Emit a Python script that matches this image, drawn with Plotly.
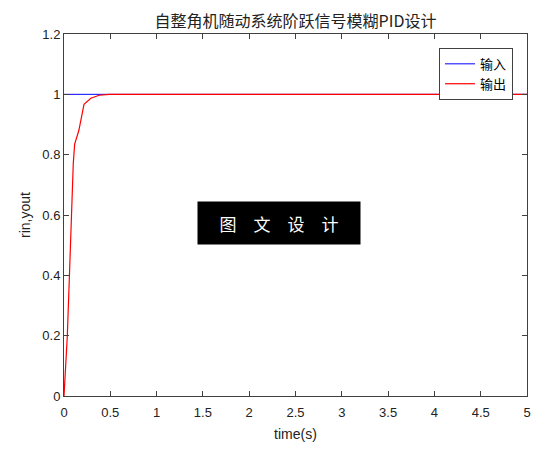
import plotly.graph_objects as go

time = [0, 0.036, 0.061, 0.08, 0.1, 0.115, 0.16, 0.216, 0.29, 0.38, 0.49, 1.0, 2.0, 3.0, 4.0, 5.0]
rin = [1, 1, 1, 1, 1, 1, 1, 1, 1, 1, 1, 1, 1, 1, 1, 1]
yout = [0, 0.2, 0.42, 0.62, 0.77, 0.835, 0.88, 0.967, 0.987, 0.997, 1.0, 1.0, 1.0, 1.0, 1.0, 1.0]

W, H = 551, 443
L, R, T, B = 56, 32, 26, 52
PW, PH = W - L - R, H - T - B
OX, OY = 64, 34  # plot origin in window pixels

fig = go.Figure()
fig.add_trace(go.Scatter(x=time, y=rin, mode="lines", name="输入",
                         line=dict(color="#0000ff", width=1)))
fig.add_trace(go.Scatter(x=time, y=yout, mode="lines", name="输出",
                         line=dict(color="#ff0000", width=1.2)))

tickfont = dict(family="Arial, Liberation Sans", size=13, color="#222")
axis_common = dict(showgrid=False, zeroline=False, showline=True, linecolor="#404040",
                   linewidth=1, mirror="ticks", ticks="inside", ticklen=5,
                   tickcolor="#404040", tickfont=tickfont)

fig.update_layout(
    width=W, height=H,
    paper_bgcolor="white", plot_bgcolor="white",
    margin=dict(l=L, r=R, t=T, b=B),
    title=dict(text="自整角机随动系统阶跃信号模糊PID设计", x=(L + PW / 2) / W, xanchor="center",
               y=1 - 13 / H, yanchor="middle",
               font=dict(family="Noto Sans CJK SC", size=16, color="#222")),
    xaxis=dict(range=[0, 5], dtick=0.5, tick0=0, ticklabelstandoff=4,
               title=dict(text="time(s)", font=dict(family="Arial, Liberation Sans", size=14, color="#222"), standoff=10),
               **axis_common),
    yaxis=dict(range=[0, 1.2], dtick=0.2, tick0=0,
               title=dict(text="rin,yout", font=dict(family="Arial, Liberation Sans", size=14, color="#222"), standoff=8),
               **axis_common),
    legend=dict(x=(513 - OX) / PW, y=(OY + PH - 48) / PH, xanchor="right", yanchor="top",
                bgcolor="white", bordercolor="#404040", borderwidth=1,
                font=dict(family="Noto Sans CJK SC", size=13, color="#000"),
                tracegroupgap=0, itemwidth=30),
    showlegend=True,
)

fig.add_annotation(
    x=((198 + 360) / 2 - OX) / PW, y=(OY + PH - 225) / PH, xref="paper", yref="paper",
    text="图　文　设　计", showarrow=False,
    font=dict(family="Noto Sans CJK SC", size=17, color="white"),
    bgcolor="black", width=160, height=40, xanchor="center", yanchor="middle",
)

fig.write_html("out.html")
